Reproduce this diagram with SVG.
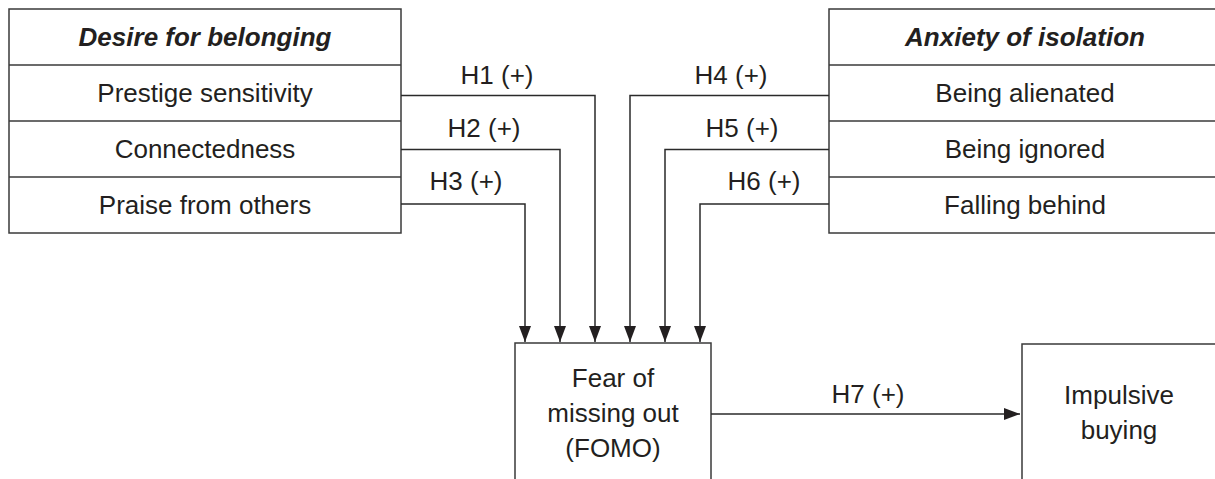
<svg xmlns="http://www.w3.org/2000/svg" width="1215" height="479" viewBox="0 0 1215 479">
  <defs>
    <style>
      .box { fill: #ffffff; stroke: #3a3a3a; stroke-width: 1.5; }
      .div { stroke: #3a3a3a; stroke-width: 1.5; }
      .lbl { font-family: "Liberation Sans", Arial, sans-serif; font-size: 26px; fill: #231f20; text-anchor: middle; }
      .hdr { font-weight: bold; font-style: italic; }
      .edge { fill: none; stroke: #2a2a2a; stroke-width: 1.5; }
      .arr { marker-end: url(#head); }
    </style>
    <marker id="head" markerUnits="userSpaceOnUse" markerWidth="16" markerHeight="12" refX="16" refY="6" orient="auto">
      <path d="M0,0 L16,6 L0,12 z" fill="#231f20"/>
    </marker>
  </defs>

  <rect width="1215" height="479" fill="#ffffff"/>

  <!-- Desire for belonging -->
  <g id="desire-for-belonging">
    <rect class="box" x="9" y="9" width="392" height="224"/>
    <line class="div" x1="9" y1="65" x2="401" y2="65"/>
    <line class="div" x1="9" y1="121" x2="401" y2="121"/>
    <line class="div" x1="9" y1="177" x2="401" y2="177"/>
    <text class="lbl hdr" x="205" y="46">Desire for belonging</text>
    <g id="prestige-sensitivity"><text class="lbl" x="205" y="102">Prestige sensitivity</text></g>
    <g id="connectedness"><text class="lbl" x="205" y="158">Connectedness</text></g>
    <g id="praise-from-others"><text class="lbl" x="205" y="214">Praise from others</text></g>
  </g>

  <!-- Anxiety of isolation -->
  <g id="anxiety-of-isolation">
    <rect class="box" x="829" y="9" width="392" height="224"/>
    <line class="div" x1="829" y1="65" x2="1221" y2="65"/>
    <line class="div" x1="829" y1="121" x2="1221" y2="121"/>
    <line class="div" x1="829" y1="177" x2="1221" y2="177"/>
    <text class="lbl hdr" x="1025" y="46">Anxiety of isolation</text>
    <g id="being-alienated"><text class="lbl" x="1025" y="102">Being alienated</text></g>
    <g id="being-ignored"><text class="lbl" x="1025" y="158">Being ignored</text></g>
    <g id="falling-behind"><text class="lbl" x="1025" y="214">Falling behind</text></g>
  </g>

  <!-- Fear of missing out -->
  <g id="fomo">
    <rect class="box" x="515" y="343" width="196" height="150"/>
    <text class="lbl" x="613" y="387">Fear of</text>
    <text class="lbl" x="613" y="422">missing out</text>
    <text class="lbl" x="613" y="457">(FOMO)</text>
  </g>

  <!-- Impulsive buying -->
  <g id="impulsive-buying">
    <rect class="box" x="1022" y="344" width="196" height="150"/>
    <text class="lbl" x="1119" y="404">Impulsive</text>
    <text class="lbl" x="1119" y="439">buying</text>
  </g>

  <!-- Hypothesised paths -->
  <g id="connectors">
    <polyline class="edge arr" points="401,95.5 595,95.5 595,342"/>
    <polyline class="edge arr" points="401,149.5 560,149.5 560,342"/>
    <polyline class="edge arr" points="401,204 525,204 525,342"/>
    <polyline class="edge arr" points="829,95.5 630,95.5 630,342"/>
    <polyline class="edge arr" points="829,149.5 665,149.5 665,342"/>
    <polyline class="edge arr" points="829,204 700,204 700,342"/>
    <line class="edge arr" x1="711" y1="414" x2="1020" y2="414"/>

    <text class="lbl" x="497" y="84">H1 (+)</text>
    <text class="lbl" x="484" y="137">H2 (+)</text>
    <text class="lbl" x="466" y="190">H3 (+)</text>
    <text class="lbl" x="731" y="84">H4 (+)</text>
    <text class="lbl" x="742" y="137">H5 (+)</text>
    <text class="lbl" x="764" y="190">H6 (+)</text>
    <text class="lbl" x="868" y="403">H7 (+)</text>
  </g>
</svg>
